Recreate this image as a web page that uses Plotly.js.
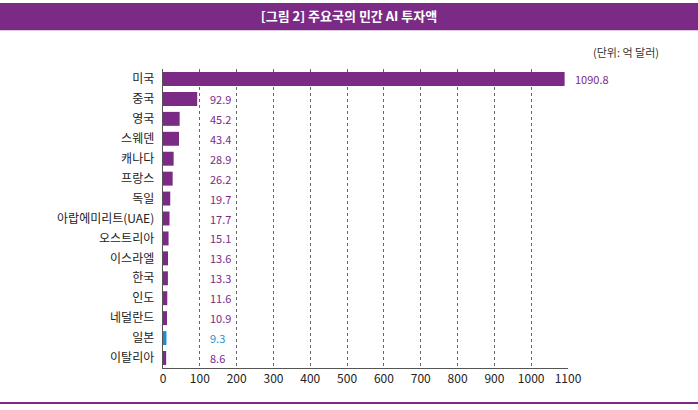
<!DOCTYPE html>
<html><head><meta charset="utf-8">
<script src="https://cdn.plot.ly/plotly-3.0.1.min.js"></script>
<style>body{margin:0;background:#fff}#chart{width:698px;height:410px}</style>
</head><body><div id="chart"></div>
<script>
var countries = ['미국','중국','영국','스웨덴','캐나다','프랑스','독일','아랍에미리트(UAE)','오스트리아','이스라엘','한국','인도','네덜란드','일본','이탈리아'];
var investment = [1090.8, 92.9, 45.2, 43.4, 28.9, 26.2, 19.7, 17.7, 15.1, 13.6, 13.3, 11.6, 10.9, 9.3, 8.6];
var highlight = '일본';

var purple = '#7b2a85', blue = '#1b8fd0';
var colors = countries.map(c => c === highlight ? blue : purple);

var trace = {
    type: 'bar', orientation: 'h',
    x: investment, y: countries,
    marker: {color: colors},
    width: 0.7, hoverinfo: 'x+y'
};

var annotations = investment.map((v, i) => ({
    x: Math.max(v, 100), y: countries[i], xref: 'x', yref: 'y',
    text: v.toFixed(1), showarrow: false, xanchor: 'left', xshift: 8,
    font: {size: 11, color: countries[i] === highlight ? blue : purple}
}));
annotations.push({
    xref: 'paper', yref: 'paper', x: 1.23, y: 1.057, xanchor: 'right', yanchor: 'middle',
    text: '(단위: 억 달러)', showarrow: false, font: {size: 11, color: '#333'}
});

var layout = {
    width: 698, height: 410,
    margin: {l: 163, r: 130, t: 69, b: 42},
    font: {family: '"Noto Sans CJK KR", "Noto Sans", sans-serif', color: '#222'},
    xaxis: {range: [0, 1100], dtick: 100, showgrid: true, griddash: 'dot',
        gridcolor: '#666', gridwidth: 1, zeroline: false, showline: true, linecolor: '#555',
        ticks: '', tickfont: {size: 12}, fixedrange: true},
    yaxis: {autorange: 'reversed', showline: true, linecolor: '#555', ticks: '',
        ticksuffix: '  ', tickfont: {size: 12}, showgrid: false},
    showlegend: false,
    annotations: annotations,
    shapes: [
        {type: 'rect', xref: 'paper', yref: 'paper', x0: -0.6, x1: 1.6, y0: 1.130, y1: 1.221,
            fillcolor: purple, line: {width: 0}},
        {type: 'line', xref: 'paper', yref: 'paper', x0: -0.6, x1: 1.6, y0: -0.117, y1: -0.117,
            line: {color: purple, width: 2}}
    ],
    title: {text: '<b>[그림 2] 주요국의 민간 AI 투자액</b>', x: 0.5, xref: 'container',
        y: 0.96, yref: 'container', yanchor: 'middle', font: {size: 13, color: '#fff'}}
};

Plotly.newPlot('chart', [trace], layout, {displayModeBar: false, staticPlot: true});
</script></body></html>
